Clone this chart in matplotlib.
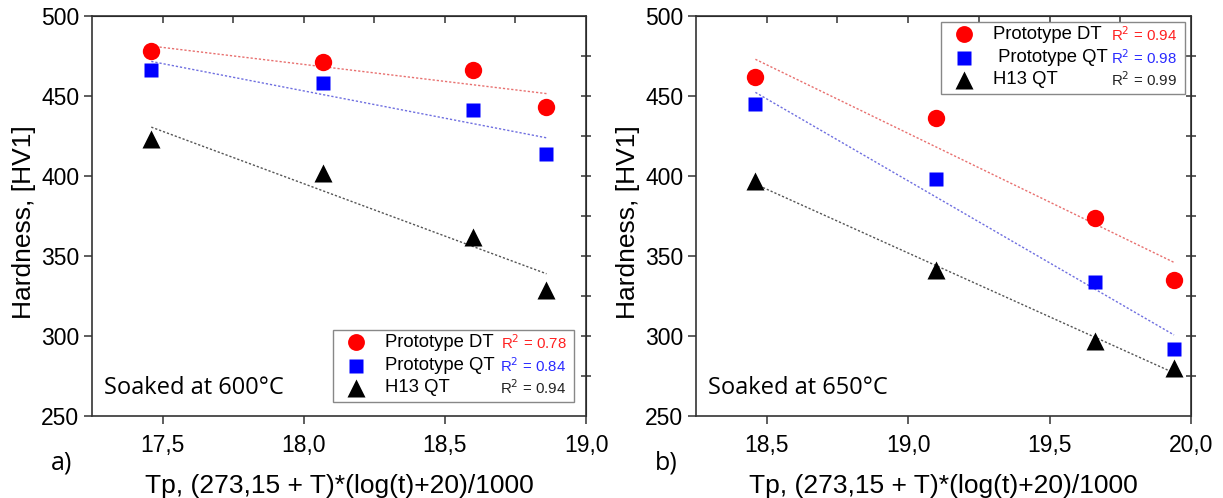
import matplotlib

matplotlib.use("Agg")
import matplotlib.pyplot as plt
import numpy as np
from matplotlib.patches import Rectangle
from matplotlib.ticker import MultipleLocator, FormatStrFormatter

plt.rcParams["font.family"] = ["Liberation Sans", "DejaVu Sans"]

# Soaked at 600 °C
tp_600 = [17.46, 18.07, 18.60, 18.86]
dt_600 = [478, 471, 466, 443]
qt_600 = [466, 458, 441, 414]
h13_600 = [423, 402, 362, 329]
r2_600 = ["0.78", "0.84", "0.94"]

# Soaked at 650 °C
tp_650 = [18.46, 19.10, 19.66, 19.94]
dt_650 = [462, 436, 374, 335]
qt_650 = [445, 398, 334, 292]
h13_650 = [397, 341, 297, 280]
r2_650 = ["0.94", "0.98", "0.99"]

series_names = ["Prototype DT", "Prototype QT", "H13 QT"]
marker_colors = ["#ff0000", "#0000ff", "#000000"]
fit_colors = ["#e8706f", "#6f6fe0", "#555555"]
r2_colors = ["#ff2020", "#2a2aff", "#222222"]
markers = ["o", "s", "^"]
marker_sizes = [12.5, 10.5, 13]

W, H = 1223, 498
fig = plt.figure(figsize=(W / 100, H / 100), dpi=100)


def _legend_box(ax, x0, x1, y1, names, r2):
    # hand-built legend: marker, series name and its R^2 on each row
    ax.add_patch(Rectangle((x0, y1 - 0.18), x1 - x0, 0.18, transform=ax.transAxes,
                           facecolor="white", edgecolor="#888888", lw=1.0, zorder=6))
    for i, off in enumerate([0.031, 0.089, 0.144]):
        y = y1 - off
        ax.plot([x0 + 0.0466], [y], markers[i], ms=marker_sizes[i] * 0.97, color=marker_colors[i],
                mec="none", transform=ax.transAxes, zorder=7, clip_on=False)
        ax.text(x0 + 0.105, y, names[i], transform=ax.transAxes, fontsize=13.3,
                va="center", ha="left", zorder=7)
        ax.text(x1 - 0.016, y, f"R$^2$ = {r2[i]}", transform=ax.transAxes, fontsize=10.8,
                va="center", ha="right", color=r2_colors[i], zorder=7)


def _panel(rect, x, ys, r2, xlim, note, tag, legend_x, legend_top, names):
    ax = fig.add_axes(rect)
    for y, mc, fc, mk, ms in zip(ys, marker_colors, fit_colors, markers, marker_sizes):
        coef = np.polyfit(x, y, 1)
        xf = np.array([x[0], x[-1]])
        ax.plot(xf, np.polyval(coef, xf), ls=(0, (1.6, 1.4)), lw=1.0, color=fc, zorder=2)
        ax.plot(x, y, mk, ms=ms, color=mc, mec="none", zorder=3)

    ax.set_xlim(*xlim)
    ax.set_ylim(250, 500)
    ax.xaxis.set_major_locator(MultipleLocator(0.5))
    ax.xaxis.set_minor_locator(MultipleLocator(0.25))
    ax.yaxis.set_major_locator(MultipleLocator(50))
    ax.yaxis.set_minor_locator(MultipleLocator(25))
    ax.xaxis.set_major_formatter(lambda v, p: f"{v:.1f}".replace(".", ","))
    ax.yaxis.set_major_formatter(FormatStrFormatter("%d"))
    ax.tick_params(which="both", direction="out", labelsize=16.5, width=1.1, color="#333333", pad=3)
    ax.tick_params(axis="x", pad=7)
    ax.tick_params(which="major", length=6)
    ax.tick_params(which="minor", length=0)
    for spine in ax.spines.values():
        spine.set_linewidth(1.2)
        spine.set_color("#333333")
    # mirrored ticks on top and right
    top = ax.secondary_xaxis("top")
    top.set_xticks(np.arange(xlim[0], xlim[1] + 0.01, 0.25)[1:-1])
    top.tick_params(direction="in", length=5, labeltop=False, width=1.1, color="#333333")
    right = ax.secondary_yaxis("right")
    right.set_yticks(np.arange(275, 500, 25))
    right.tick_params(direction="inout", length=7, labelright=False, width=1.1, color="#333333")

    ax.set_xlabel("Tp, (273,15 + T)*(log(t)+20)/1000", fontsize=19)
    ax.xaxis.set_label_coords(0.5, -0.145)
    ax.set_ylabel("Hardness, [HV1]", fontsize=19)
    ax.yaxis.set_label_coords(-0.113, 0.485)

    ax.text(0.024, 0.07, note, transform=ax.transAxes, fontsize=17,
            family=["Open Sans", "DejaVu Sans"], va="center", ha="left")
    bbox = ax.get_position()
    fig.text(bbox.x0 - 0.0245, 0.07, tag, fontsize=18, family=["Open Sans", "DejaVu Sans"],
             ha="center", va="center")

    _legend_box(ax, legend_x[0], legend_x[1], legend_top, names, r2)
    return ax


_panel([92 / W, 1 - 416 / H, 494 / W, 400 / H], tp_600, [dt_600, qt_600, h13_600], r2_600,
       (17.25, 19.0), "Soaked at 600°C", "a)", (0.488, 0.976), 0.215, series_names)
_panel([696 / W, 1 - 416 / H, 495 / W, 400 / H], tp_650, [dt_650, qt_650, h13_650], r2_650,
       (18.25, 20.0), "Soaked at 650°C", "b)", (0.495, 0.988), 0.985,
       ["Prototype DT", " Prototype QT", "H13 QT"])

fig.savefig("out.png", dpi=100)
